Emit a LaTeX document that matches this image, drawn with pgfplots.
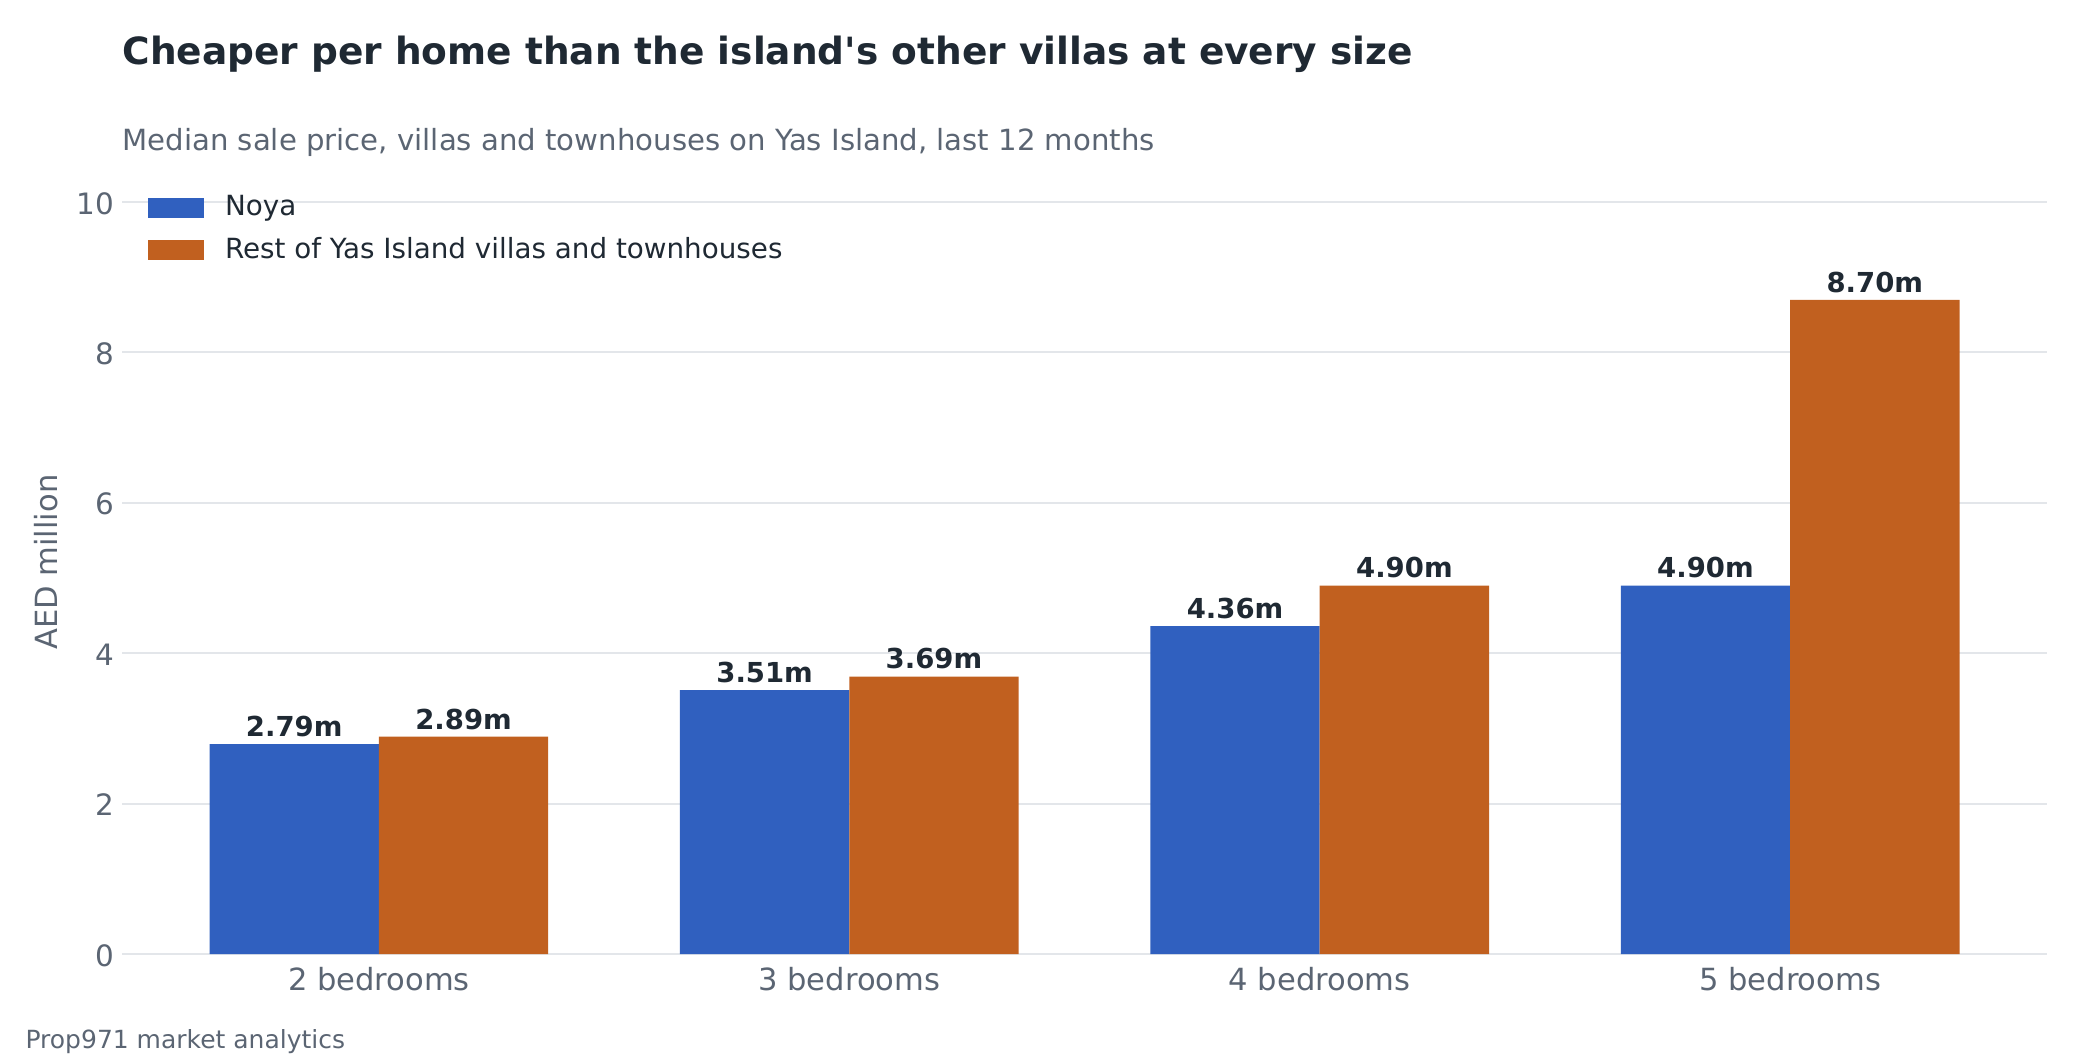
\documentclass[border=0pt]{standalone}
\usepackage{fontspec}
\setmainfont{DejaVu Sans}
\usepackage{pgfplots}
\usepackage{pgfplotstable}
\pgfplotsset{compat=1.18}

\definecolor{noya}{HTML}{3060BF}
\definecolor{rest}{HTML}{C1601F}
\definecolor{ink}{HTML}{1F2933}
\definecolor{muted}{HTML}{5B6573}
\definecolor{gridc}{HTML}{E3E6EA}

% median sale price, AED million
\pgfplotstableread{
x noya rest
0 2.79 2.89
1 3.51 3.69
2 4.36 4.90
3 4.90 8.70
}\prices

\def\u{0.36pt}

\pgfplotsset{
  patch legend/.style={
    legend image code/.code={
      \fill[##1] (0pt,-3.6pt) rectangle (20.16pt,3.6pt);
      \path (27.9pt,0pt);
    }
  }
}

\begin{document}
\begin{tikzpicture}
\path[use as bounding box] (0,0) rectangle ({2080*\u},{-1060*\u});

\begin{axis}[
  at={({122*\u},{-954*\u})}, anchor=south west,
  scale only axis, width=693pt, height=270.72pt,
  xmin=-0.546, xmax=3.546, ymin=0, ymax=10,
  ybar, bar width=0.36,
  axis line style={draw=none},
  major tick length=0pt,
  xtick={0,1,2,3},
  xticklabels={2 bedrooms,3 bedrooms,4 bedrooms,5 bedrooms},
  ytick={0,2,4,6,8,10},
  ymajorgrids, grid style={gridc, line width=0.72pt},
  /pgf/number format/assume math mode=true,
  xticklabel style={font=\fontsize{11}{13}\selectfont, text=muted, inner sep=0pt, anchor=north, yshift=-4.6pt},
  yticklabel style={font=\fontsize{10.6}{12}\selectfont, text=muted, inner sep=0pt, anchor=east, xshift=-2.6pt, yshift=-0.5pt},
  ylabel={AED million},
  every axis y label/.style={at={(rel axis cs:-0.0395,0.521)}, rotate=90, anchor=center, inner sep=0pt, font=\fontsize{11}{13}\selectfont, text=muted},
  nodes near coords={\pgfmathprintnumber[fixed,fixed zerofill,precision=2,assume math mode=true]{\pgfplotspointmeta}m},
  every node near coord/.append style={font=\fontsize{9.9}{11}\selectfont\bfseries, text=ink, anchor=south, inner sep=0pt, yshift=2.4pt},
  legend style={at={(0.013,1.0095)}, anchor=north west, draw=none, fill=none, inner sep=0pt, row sep=6.2pt,
    font=\fontsize{10}{12}\selectfont, text=ink, nodes={inner sep=0pt}},
  legend cell align=left,
]
\addplot[fill=noya, draw=none, bar shift=-0.18, patch legend] table[x=x, y=noya] {\prices};
\addlegendentry{Noya}
\addplot[fill=rest, draw=none, bar shift=0.18, patch legend] table[x=x, y=rest] {\prices};
\addlegendentry{Rest of Yas Island villas and townhouses}
\end{axis}

\node[anchor=base west, inner sep=0pt, font=\fontsize{13.5}{16}\selectfont\bfseries, text=ink]
  at ({122*\u},{-64.8*\u}) {Cheaper per home than the island\textquotesingle s other villas at every size};
\node[anchor=base west, inner sep=0pt, font=\fontsize{10.5}{12}\selectfont, text=muted]
  at ({122*\u},{-151*\u}) {Median sale price, villas and townhouses on Yas Island, last 12 months};
\node[anchor=base west, inner sep=0pt, font=\fontsize{9}{11}\selectfont, text=muted]
  at ({25*\u},{-1048*\u}) {Prop971 market analytics};
\end{tikzpicture}
\end{document}
